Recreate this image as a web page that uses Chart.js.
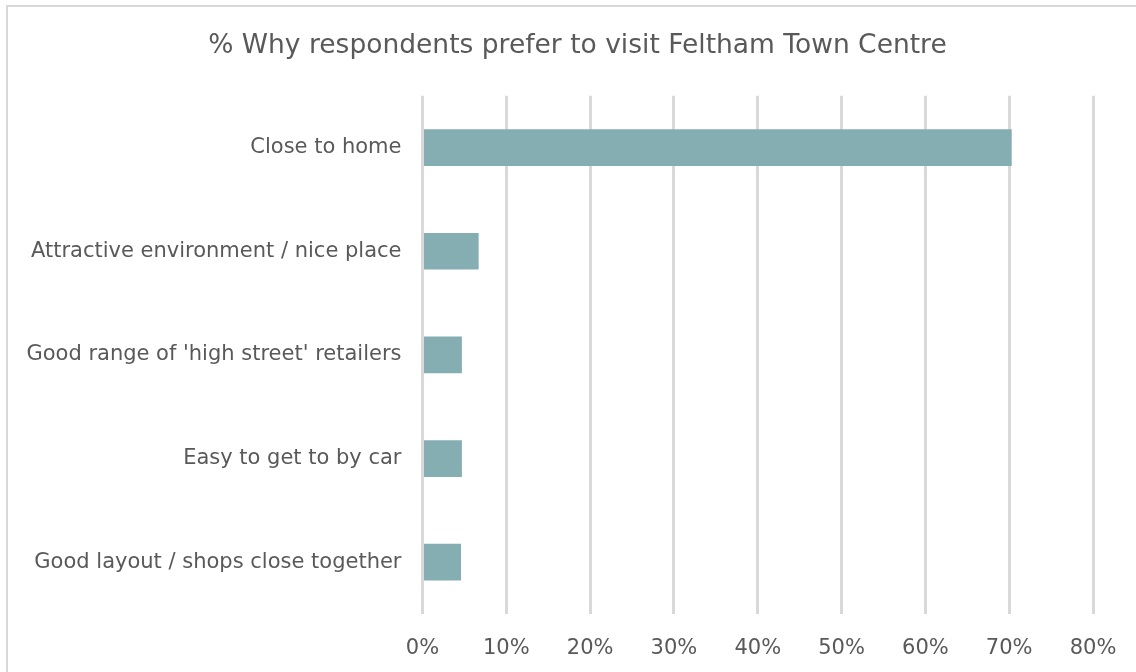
<!DOCTYPE html>
<html>
<head>
<meta charset="utf-8">
<script src="https://cdn.jsdelivr.net/npm/chart.js@4/dist/chart.umd.min.js"></script>
<style>
  html, body { margin: 0; padding: 0; background: #fff; overflow: hidden; }
  #wrap { position: relative; width: 1136px; height: 672px; }
  #frame { position: absolute; left: 6px; top: 5px; width: 1200px; height: 720px;
           border: 2px solid #d9d9d9; box-sizing: border-box; pointer-events: none; }
  canvas { position: absolute; left: 0; top: 0; }
</style>
</head>
<body>
<div id="wrap">
  <canvas id="chart" width="1136" height="672"></canvas>
  <div id="frame"></div>
</div>
<script>
// Reasons for visiting, top to bottom
const categories = [
  "Close to home",
  "Attractive environment / nice place",
  "Good range of 'high street' retailers",
  "Easy to get to by car",
  "Good layout / shops close together"
];
// Share of respondents (%)
const shares = [70.3, 6.7, 4.7, 4.7, 4.6];
const xTicks = [0, 10, 20, 30, 40, 50, 60, 70, 80];

const FONT = "'DejaVu Sans', Verdana, sans-serif";
const TEXT = "#595959";

// centre the title across the framed area rather than the padded layout width
const titleSpan = {
  id: "titleSpan",
  afterLayout(chart) {
    const t = chart.titleBlock;
    if (t) { t.left = 19; t.right = 1136; t.width = t.right - t.left; }
  }
};

new Chart(document.getElementById("chart"), {
  type: "bar",
  data: {
    labels: categories,
    datasets: [{
      data: shares,
      backgroundColor: "#84aeb2",
      borderWidth: 0,
      barPercentage: 0.354,
      categoryPercentage: 1.0
    }]
  },
  plugins: [titleSpan],
  options: {
    indexAxis: "y",
    responsive: false,
    animation: false,
    devicePixelRatio: 1,
    layout: { padding: { top: 0, right: 43, bottom: 11, left: 0 } },
    plugins: {
      legend: { display: false },
      tooltip: { enabled: false },
      title: {
        display: true,
        text: "% Why respondents prefer to visit Feltham Town Centre",
        color: TEXT,
        font: { family: FONT, size: 26.5, weight: "normal" },
        padding: { top: 30, bottom: 34 }
      }
    },
    scales: {
      x: {
        min: 0, max: 80,
        afterBuildTicks: (s) => { s.ticks = xTicks.map(v => ({ value: v })); },
        afterFit: (s) => { s.height = 47; s.paddingRight = 0; s.paddingLeft = 0; },
        grid: { color: "#d9d9d9", lineWidth: 3, drawTicks: false },
        border: { display: false },
        ticks: {
          color: TEXT,
          padding: 22,
          maxRotation: 0,
          font: { family: FONT, size: 21 },
          callback: (v) => v + "%"
        }
      },
      y: {
        afterFit: (s) => { s.width = 422.5; },
        grid: { display: false, drawTicks: false },
        border: { display: false },
        ticks: {
          color: TEXT,
          padding: 21,
          font: { family: FONT, size: 21 }
        }
      }
    }
  }
});
</script>
</body>
</html>
